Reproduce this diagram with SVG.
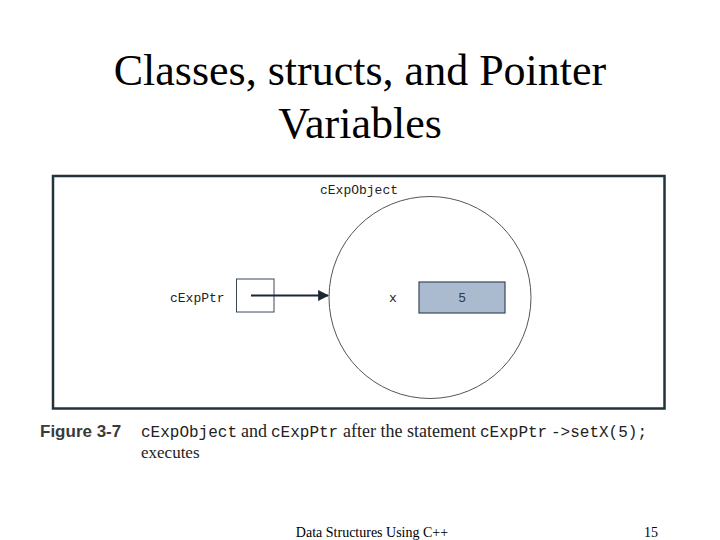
<svg xmlns="http://www.w3.org/2000/svg" width="720" height="540" viewBox="0 0 720 540">
<style>
.title{font-family:"Liberation Serif","Times New Roman",serif;font-size:44px;fill:#000;text-anchor:middle}
.mono{font-family:"Liberation Mono","Courier New",monospace;fill:#222}
.serif{font-family:"Liberation Serif","Times New Roman",serif;fill:#222}
.foot{font-family:"Liberation Serif","Times New Roman",serif;font-size:14px;fill:#000}
</style>
<defs>
<marker id="arr" viewBox="0 0 10 10" refX="9" refY="5" markerWidth="5" markerHeight="5" orient="auto" markerUnits="strokeWidth">
<path d="M0,0 L10,5 L0,10 z" fill="#1b2833"/>
</marker>
</defs>
<rect width="720" height="540" fill="#fff"/>
<text class="title" x="360" y="85">Classes, structs, and Pointer</text>
<text class="title" x="360" y="138">Variables</text>
<rect x="53" y="176" width="611.5" height="232.5" fill="none" stroke="#24323c" stroke-width="2.5"/>
<g id="cExpObject">
<circle cx="430" cy="297.5" r="101" fill="none" stroke="#555" stroke-width="1"/>
<text class="mono" x="320" y="194" font-size="13">cExpObject</text>
<text class="mono" x="389" y="302" font-size="13">x</text>
<rect x="419" y="282" width="86" height="31" fill="#aabbd0" stroke="#3a4856" stroke-width="1.2"/>
<text x="462" y="302" font-family="Liberation Sans,Arial,sans-serif" font-size="13" fill="#2a3a4a" text-anchor="middle">5</text>
</g>
<g id="cExpPtr">
<text class="mono" x="170" y="302" font-size="13">cExpPtr</text>
<rect x="236.5" y="279" width="37.5" height="33" fill="#fff" stroke="#3a4856" stroke-width="1"/>
</g>
<g id="connectors">
<line x1="251" y1="295.5" x2="328" y2="295.5" stroke="#1b2833" stroke-width="2.2" marker-end="url(#arr)"/>
</g>
<g id="caption">
<text x="40" y="437" font-family="Liberation Sans,Arial,sans-serif" font-weight="bold" font-size="17" fill="#3a3a3a">Figure 3-7</text>
<text class="mono" x="141" y="437" font-size="16">cExpObject</text>
<text class="serif" x="241" y="437" font-size="18">and</text>
<text class="mono" x="271" y="437" font-size="16">cExpPtr</text>
<text class="serif" x="343" y="437" font-size="18">after the statement</text>
<text class="mono" x="480" y="437" font-size="16">cExpPtr</text>
<text class="mono" x="551" y="437" font-size="16">-&gt;setX(5);</text>
<text class="serif" x="141" y="458" font-size="17">executes</text>
</g>
<text class="foot" x="372" y="537" text-anchor="middle">Data Structures Using C++</text>
<text class="foot" x="658" y="537" text-anchor="end">15</text>
</svg>
